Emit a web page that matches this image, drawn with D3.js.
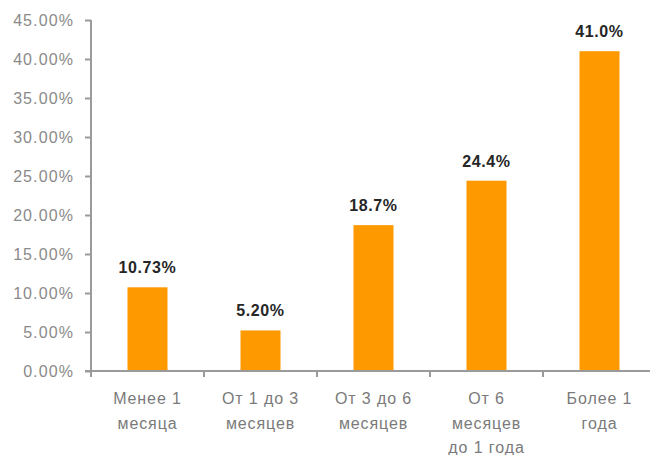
<!DOCTYPE html>
<html>
<head>
<meta charset="utf-8">
<script src="https://cdn.jsdelivr.net/npm/d3@7"></script>
<style>
  html, body { margin: 0; padding: 0; background: #fff; }
  svg { display: block; }
  text { font-family: Arial, "Liberation Sans", sans-serif; }
</style>
</head>
<body>
<svg id="chart" width="650" height="455"></svg>
<script>
const categories = [
  ["Менее 1", "месяца"],
  ["От 1 до 3", "месяцев"],
  ["От 3 до 6", "месяцев"],
  ["От 6", "месяцев", "до 1 года"],
  ["Более 1", "года"]
];
const values = [10.73, 5.20, 18.7, 24.4, 41.0];
const valueLabels = ["10.73%", "5.20%", "18.7%", "24.4%", "41.0%"];
const yTicks = [0, 5, 10, 15, 20, 25, 30, 35, 40, 45];

const svg = d3.select("#chart");
const plotLeft = 91, plotRight = 656, plotTop = 20, plotBottom = 371;

const x = d3.scaleBand()
  .domain(d3.range(categories.length))
  .range([plotLeft, plotRight])
  .paddingInner(0.646)
  .paddingOuter(0.323);

const y = d3.scaleLinear().domain([0, 45]).range([plotBottom, plotTop]);

// bars
svg.append("g").selectAll("rect")
  .data(values)
  .join("rect")
  .attr("x", (d, i) => x(i))
  .attr("y", d => y(d))
  .attr("width", x.bandwidth())
  .attr("height", d => y(0) - y(d))
  .attr("fill", "#ff9900");

// value labels
svg.append("g").selectAll("text")
  .data(values)
  .join("text")
  .attr("x", (d, i) => x(i) + x.bandwidth() / 2)
  .attr("y", d => y(d) - 14)
  .attr("text-anchor", "middle")
  .attr("font-size", 16)
  .attr("font-weight", "bold")
  .attr("letter-spacing", 0.6)
  .attr("fill", "#262626")
  .text((d, i) => valueLabels[i]);

// y axis
const yAxis = d3.axisLeft(y)
  .tickValues(yTicks)
  .tickSize(6)
  .tickPadding(11)
  .tickFormat(d => d.toFixed(2) + "%");
const yg = svg.append("g").attr("transform", `translate(${plotLeft},0)`).call(yAxis);
yg.select(".domain").attr("stroke", "#9a9a9a").attr("stroke-width", 2)
  .attr("d", `M0,${plotTop}V${plotBottom + 5}`);
yg.selectAll(".tick line").attr("stroke", "#9a9a9a").attr("stroke-width", 2);
yg.selectAll(".tick text")
  .attr("font-size", 16)
  .attr("letter-spacing", 1.1)
  .attr("fill", "#8a8a8a")
  .attr("font-family", "Arial, 'Liberation Sans', sans-serif");

// x axis
const xg = svg.append("g");
xg.append("line")
  .attr("x1", plotLeft - 6).attr("x2", 650)
  .attr("y1", plotBottom).attr("y2", plotBottom)
  .attr("stroke", "#9a9a9a").attr("stroke-width", 2);
const boundaries = d3.range(categories.length).map(i => x(i) - x.step() * x.paddingInner() / 2);
xg.selectAll("line.tick")
  .data(boundaries)
  .join("line")
  .attr("class", "tick")
  .attr("x1", d => d).attr("x2", d => d)
  .attr("y1", plotBottom).attr("y2", plotBottom + 6)
  .attr("stroke", "#9a9a9a").attr("stroke-width", 2);

xg.selectAll("text")
  .data(categories)
  .join("text")
  .attr("x", (d, i) => x(i) + x.bandwidth() / 2)
  .attr("y", 404)
  .attr("text-anchor", "middle")
  .attr("font-size", 16)
  .attr("letter-spacing", 0.9)
  .attr("fill", "#7a7a7a")
  .each(function(d) {
    const t = d3.select(this);
    d.forEach((line, k) => {
      t.append("tspan")
        .attr("x", t.attr("x"))
        .attr("dy", k === 0 ? 0 : 24.5)
        .text(line);
    });
  });
</script>
</body>
</html>
